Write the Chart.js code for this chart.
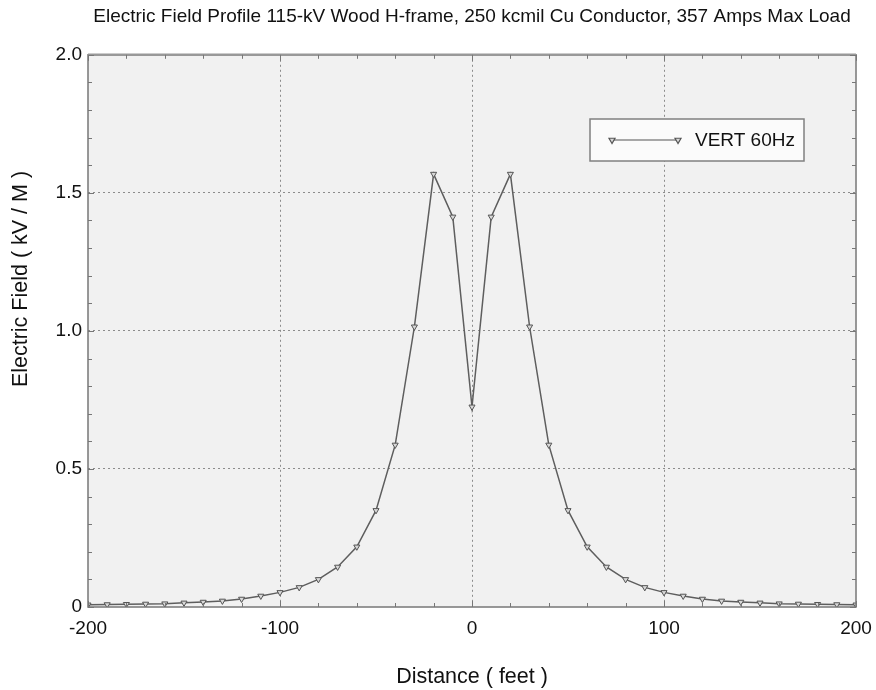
<!DOCTYPE html>
<html>
<head>
<meta charset="utf-8">
<script src="https://cdn.jsdelivr.net/npm/chart.js@4.4.1/dist/chart.umd.min.js"></script>
<style>
html, body { margin: 0; padding: 0; background: #fff; }
#caja { width: 876px; height: 690px; }
</style>
</head>
<body>
<div id="caja"><canvas id="miGrafico" width="876" height="690"></canvas></div>
<script>
// Datos (distancia en pies, campo en kV/M)
var distancias = [-200, -190, -180, -170, -160, -150, -140, -130, -120, -110, -100, -90, -80, -70, -60, -50, -40, -30, -20, -10,
                  0, 10, 20, 30, 40, 50, 60, 70, 80, 90, 100, 110, 120, 130, 140, 150, 160, 170, 180, 190, 200];
var campoVert = [0.008, 0.009, 0.010, 0.011, 0.012, 0.015, 0.018, 0.022, 0.029, 0.040, 0.053, 0.071, 0.100, 0.145, 0.218, 0.350, 0.587, 1.015, 1.568, 1.413,
                 0.725, 1.413, 1.568, 1.015, 0.587, 0.350, 0.218, 0.145, 0.100, 0.071, 0.053, 0.040, 0.029, 0.022, 0.018, 0.015, 0.012, 0.011, 0.010, 0.009, 0.008];
var etiquetaSerie = "VERT 60Hz";
var ticksX = [-200, -100, 0, 100, 200];
var ticksY = [0, 0.5, 1.0, 1.5, 2.0];
var titulo = "Electric Field Profile 115-kV Wood H-frame, 250 kcmil Cu Conductor, 357 Amps Max Load";
var tituloX = "Distance ( feet )";
var tituloY = "Electric Field ( kV / M )";

var fuente = "'Liberation Sans', Arial, sans-serif";

var puntos = [];
for (var i = 0; i < distancias.length; i++) {
    puntos.push({ x: distancias[i], y: campoVert[i] });
}

function esMayorX(v) { return ticksX.indexOf(v) >= 0; }
function esMayorY(v) {
    var n = Math.round(v * 10);
    return ticksY.some(function (t) { return Math.round(t * 10) === n; });
}

// fondo, marco, marcas menores, leyenda y titulo del eje Y
var decoracion = {
    id: 'decoracion',
    beforeDraw: function (chart) {
        var ctx = chart.ctx, a = chart.chartArea;
        ctx.save();
        ctx.fillStyle = '#ffffff';
        ctx.fillRect(0, 0, chart.width, chart.height);
        ctx.fillStyle = '#f1f1f1';
        ctx.fillRect(a.left, a.top, a.right - a.left, a.bottom - a.top);
        ctx.restore();
    },
    afterDatasetsDraw: function (chart) {
        var ctx = chart.ctx, a = chart.chartArea;
        var sx = chart.scales.x, sy = chart.scales.y;
        ctx.save();
        // marco
        ctx.strokeStyle = '#777';
        ctx.lineWidth = 1.5;
        ctx.strokeRect(a.left, a.top, a.right - a.left, a.bottom - a.top);
        ctx.strokeStyle = '#999';
        ctx.lineWidth = 2.5;
        ctx.beginPath();
        ctx.moveTo(a.left, a.top); ctx.lineTo(a.right, a.top);
        ctx.stroke();

        // marcas hacia adentro
        ctx.strokeStyle = '#777';
        ctx.lineWidth = 1;
        sx.ticks.forEach(function (t) {
            var px = Math.round(sx.getPixelForValue(t.value)) + 0.5;
            var l = esMayorX(t.value) ? 6 : 4;
            ctx.beginPath();
            ctx.moveTo(px, a.bottom); ctx.lineTo(px, a.bottom - l);
            ctx.moveTo(px, a.top); ctx.lineTo(px, a.top + l);
            ctx.stroke();
        });
        sy.ticks.forEach(function (t) {
            var py = Math.round(sy.getPixelForValue(t.value)) + 0.5;
            var l = esMayorY(t.value) ? 6 : 4;
            ctx.beginPath();
            ctx.moveTo(a.left, py); ctx.lineTo(a.left + l, py);
            ctx.moveTo(a.right, py); ctx.lineTo(a.right - l, py);
            ctx.stroke();
        });

        // leyenda
        var bx = 590, by = 119, bw = 214, bh = 42;
        ctx.fillStyle = '#fbfbfb';
        ctx.fillRect(bx, by, bw, bh);
        ctx.strokeStyle = '#808080';
        ctx.lineWidth = 1.5;
        ctx.strokeRect(bx, by, bw, bh);
        var ly = by + bh / 2;
        ctx.strokeStyle = '#555';
        ctx.lineWidth = 1.2;
        ctx.beginPath();
        ctx.moveTo(612, ly); ctx.lineTo(678, ly);
        ctx.stroke();
        var estiloPunto = { pointStyle: 'triangle', rotation: 180, radius: 3.5, borderWidth: 1 };
        ctx.fillStyle = '#d8d8d8';
        ctx.strokeStyle = '#555';
        Chart.helpers.drawPoint(ctx, estiloPunto, 612, ly);
        Chart.helpers.drawPoint(ctx, estiloPunto, 678, ly);
        ctx.fillStyle = '#111';
        ctx.font = '19px ' + fuente;
        ctx.textAlign = 'left';
        ctx.textBaseline = 'middle';
        ctx.fillText(etiquetaSerie, 695, ly + 1);

        // titulo eje Y
        ctx.translate(21, 279);
        ctx.rotate(-Math.PI / 2);
        ctx.textAlign = 'center';
        ctx.font = '21.5px ' + fuente;
        ctx.fillText(tituloY, 0, 0);
        ctx.restore();
    }
};

var ctx = document.getElementById('miGrafico').getContext('2d');
new Chart(ctx, {
    type: 'line',
    data: {
        datasets: [{
            label: etiquetaSerie,
            data: puntos,
            borderColor: '#5e5e5e',
            borderWidth: 1.5,
            tension: 0,
            pointStyle: 'triangle',
            rotation: 180,
            pointRadius: 3.5,
            pointBackgroundColor: '#d8d8d8',
            pointBorderColor: '#555',
            pointBorderWidth: 1
        }]
    },
    options: {
        responsive: false,
        animation: false,
        devicePixelRatio: 1,
        layout: { padding: { left: 0, right: 20, top: 0, bottom: 0 } },
        plugins: {
            legend: { display: false },
            tooltip: { enabled: false },
            title: {
                display: true,
                fullSize: false,
                text: titulo,
                color: '#111',
                font: { family: fuente, size: 19, weight: 'normal', lineHeight: 1.2 },
                padding: { top: 5, bottom: 27 }
            }
        },
        scales: {
            x: {
                type: 'linear',
                min: -200,
                max: 200,
                afterFit: function (s) {
                    s.height = 83;
                    s.paddingLeft = 0;
                    s.paddingRight = 0;
                },
                ticks: {
                    stepSize: 20,
                    autoSkip: false,
                    maxRotation: 0,
                    padding: 10,
                    color: '#111',
                    font: { family: fuente, size: 19 },
                    callback: function (v) { return esMayorX(v) ? String(v) : ''; }
                },
                grid: {
                    drawTicks: false,
                    lineWidth: 1,
                    color: function (c) {
                        if (!c.tick) return 'transparent';
                        var v = c.tick.value;
                        return (esMayorX(v) && v !== -200 && v !== 200) ? '#8c8c8c' : 'transparent';
                    }
                },
                border: { display: false, dash: [2, 3] },
                title: {
                    display: true,
                    text: tituloX,
                    color: '#111',
                    font: { family: fuente, size: 21.5, lineHeight: 1.2 },
                    padding: { top: 0, bottom: 0 }
                }
            },
            y: {
                min: 0,
                max: 2,
                afterFit: function (s) {
                    s.width = 88;
                    s.paddingTop = 0;
                    s.paddingBottom = 0;
                },
                ticks: {
                    stepSize: 0.1,
                    autoSkip: false,
                    padding: 6,
                    color: '#111',
                    font: { family: fuente, size: 19 },
                    callback: function (v) {
                        if (!esMayorY(v)) return '';
                        return Math.round(v * 10) === 0 ? '0' : v.toFixed(1);
                    }
                },
                grid: {
                    drawTicks: false,
                    lineWidth: 1,
                    color: function (c) {
                        if (!c.tick) return 'transparent';
                        var n = Math.round(c.tick.value * 10);
                        return (esMayorY(c.tick.value) && n !== 0 && n !== 20) ? '#8c8c8c' : 'transparent';
                    }
                },
                border: { display: false, dash: [2, 3] }
            }
        }
    },
    plugins: [decoracion]
});
</script>
</body>
</html>
